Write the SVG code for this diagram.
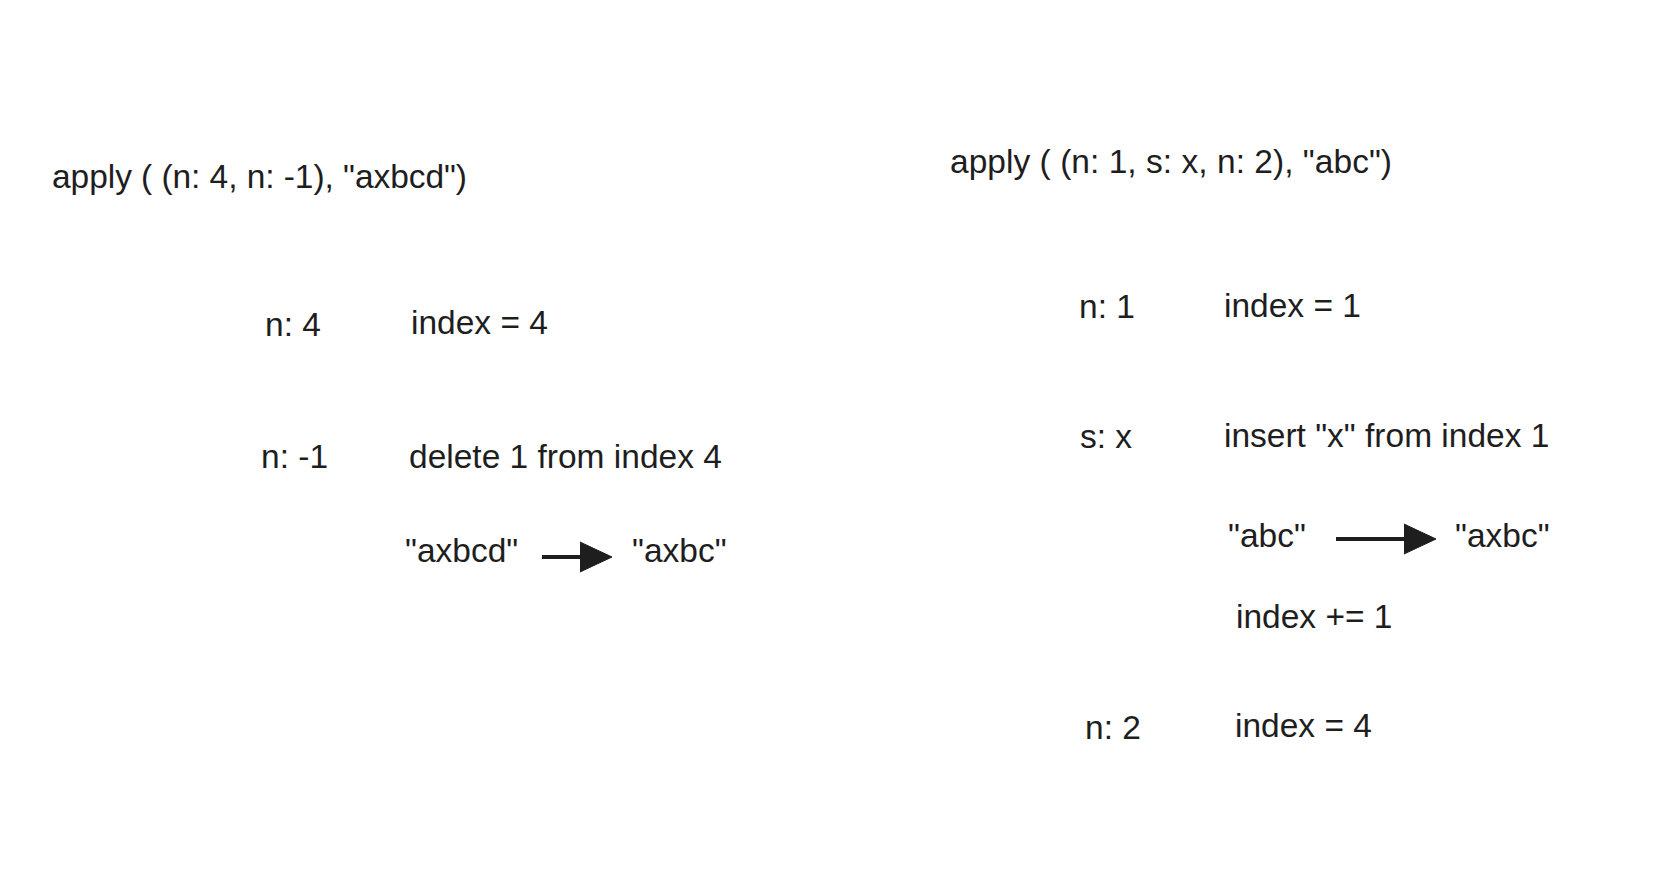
<svg xmlns="http://www.w3.org/2000/svg" width="1680" height="882" viewBox="0 0 1680 882">
<style>
text{font-family:"Liberation Sans",Arial,Helvetica,sans-serif;font-size:33.5px;fill:#1e1e1e}
.c{stroke:#1e1e1e;stroke-width:4;fill:none;stroke-linecap:butt}
</style>
<defs>
<marker id="ah" markerUnits="userSpaceOnUse" markerWidth="34" markerHeight="32" refX="20" refY="16" orient="auto">
<path d="M0,1 L32,16 L0,31 Z" fill="#1e1e1e" stroke="#1e1e1e" stroke-width="1" stroke-linejoin="round"/>
</marker>
</defs>
<rect width="1680" height="882" fill="#ffffff"/>
<g id="left-title"><text x="52" y="188" textLength="415" lengthAdjust="spacing">apply ( (n: 4, n: -1), "axbcd")</text></g>
<g id="left-n4"><text x="265" y="336">n: 4</text></g>
<g id="left-index4"><text x="411" y="334">index = 4</text></g>
<g id="left-nm1"><text x="261" y="468">n: -1</text></g>
<g id="left-delete"><text x="409" y="468">delete 1 from index 4</text></g>
<g id="left-axbcd"><text x="405" y="562">"axbcd"</text></g>
<g id="left-axbc"><text x="632" y="562">"axbc"</text></g>
<g id="right-title"><text x="950" y="173" textLength="442" lengthAdjust="spacing">apply ( (n: 1, s: x, n: 2), "abc")</text></g>
<g id="right-n1"><text x="1079" y="318">n: 1</text></g>
<g id="right-index1"><text x="1224" y="317">index = 1</text></g>
<g id="right-sx"><text x="1080" y="448">s: x</text></g>
<g id="right-insert"><text x="1224" y="447">insert "x" from index 1</text></g>
<g id="right-abc"><text x="1228" y="547">"abc"</text></g>
<g id="right-axbc"><text x="1455" y="547">"axbc"</text></g>
<g id="right-indexplus"><text x="1236" y="628">index += 1</text></g>
<g id="right-n2"><text x="1085" y="739">n: 2</text></g>
<g id="right-index4"><text x="1235" y="737">index = 4</text></g>
<g id="connectors">
<line class="c" x1="542" y1="557" x2="600" y2="557" marker-end="url(#ah)"/>
<line class="c" x1="1336" y1="539" x2="1424" y2="539" marker-end="url(#ah)"/>
</g>
</svg>
